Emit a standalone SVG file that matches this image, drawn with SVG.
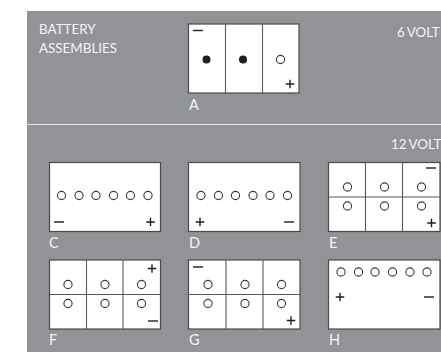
<svg xmlns="http://www.w3.org/2000/svg" width="441" height="352" viewBox="0 0 441 352">
<style>
.box{fill:#fff;stroke:#4a4a4c;stroke-width:1.2}
.div{stroke:#58585a;stroke-width:1.1;fill:none}
.o{fill:#fff;stroke:#3c3c3e;stroke-width:1.1}
.f{fill:#1f1f21}
.s{stroke:#1f1f21;stroke-width:1.4;fill:none}
.t{font-family:"Lato","Open Sans",sans-serif;font-size:13.4px;fill:#f4f4f5}
.l{font-size:14.5px}
</style>
<defs>
<circle id="c" class="o" r="4.1"/>
<path id="m" class="s" d="M-5 0H5"/>
<path id="p" class="s" d="M-4.3 0H4.3M0 -4.3V4.3"/>
</defs>
<rect x="27" y="11" width="414" height="341" fill="#929396"/>
<g id="connectors"><path d="M27 124.5H441" stroke="#e4e4e6" stroke-width="1" fill="none"/></g>
<g id="title"><text class="t" x="39" y="34">BATTERY</text><text class="t" x="39" y="53">ASSEMBLIES</text>
<text class="t" x="397" y="37" word-spacing="-1">6 VOLT</text><text class="t" x="391" y="149" word-spacing="-1">12 VOLT</text></g>
<g id="A"><rect class="box" x="188.5" y="24" width="110.5" height="69"/><path class="div" d="M225.5 24V93M262.5 24V93"/>
<circle class="f" cx="206.5" cy="59.5" r="4"/><circle class="f" cx="243" cy="59.5" r="4"/><use href="#c" x="280.5" y="59.5"/>
<use href="#m" x="198" y="30.5"/><use href="#p" x="290" y="84"/><text class="t l" x="189" y="110">A</text></g>
<g id="C"><rect class="box" x="49.5" y="162.5" width="111" height="69"/>
<use href="#c" x="61.5" y="195.5"/><use href="#c" x="79" y="195.5"/><use href="#c" x="96" y="195.5"/><use href="#c" x="113.5" y="195.5"/><use href="#c" x="130.5" y="195.5"/><use href="#c" x="148" y="195.5"/>
<use href="#m" x="59" y="222"/><use href="#p" x="150.5" y="222"/><text class="t l" x="49" y="248">C</text></g>
<g id="D"><rect class="box" x="188.5" y="162.5" width="111.5" height="69"/>
<use href="#c" x="201" y="195.5"/><use href="#c" x="218.5" y="195.5"/><use href="#c" x="235.5" y="195.5"/><use href="#c" x="253" y="195.5"/><use href="#c" x="270" y="195.5"/><use href="#c" x="287.5" y="195.5"/>
<use href="#p" x="200" y="222"/><use href="#m" x="289" y="222"/><text class="t l" x="189" y="248">D</text></g>
<g id="E"><rect class="box" x="328.5" y="162.5" width="111.5" height="69"/><path class="div" d="M365.5 162.5V231.5M402.5 162.5V231.5M328.5 197H440"/>
<use href="#c" x="347.5" y="187"/><use href="#c" x="384.5" y="187"/><use href="#c" x="421.5" y="187"/><use href="#c" x="347.5" y="206"/><use href="#c" x="384.5" y="206"/><use href="#c" x="421.5" y="206"/>
<use href="#m" x="431" y="168"/><use href="#p" x="431.5" y="223"/><text class="t l" x="329" y="248">E</text></g>
<g id="F"><rect class="box" x="49.5" y="260" width="111" height="69"/><path class="div" d="M86.5 260V329M123 260V329M49.5 294.5H160.5"/>
<use href="#c" x="68" y="284.5"/><use href="#c" x="105" y="284.5"/><use href="#c" x="141.5" y="284.5"/><use href="#c" x="68" y="303.5"/><use href="#c" x="105" y="303.5"/><use href="#c" x="141.5" y="303.5"/>
<use href="#p" x="152" y="268.5"/><use href="#m" x="153" y="321"/><text class="t l" x="49" y="345">F</text></g>
<g id="G"><rect class="box" x="188.5" y="260" width="111.5" height="69"/><path class="div" d="M226 260V329M263 260V329M188.5 294.5H300"/>
<use href="#c" x="208" y="284.5"/><use href="#c" x="245" y="284.5"/><use href="#c" x="281.5" y="284.5"/><use href="#c" x="208" y="303.5"/><use href="#c" x="245" y="303.5"/><use href="#c" x="281.5" y="303.5"/>
<use href="#m" x="198" y="267"/><use href="#p" x="291" y="320.5"/><text class="t l" x="189" y="345">G</text></g>
<g id="H"><rect class="box" x="328.5" y="260" width="111.5" height="69"/>
<use href="#c" x="341" y="272"/><use href="#c" x="358.5" y="272"/><use href="#c" x="375" y="272"/><use href="#c" x="392.5" y="272"/><use href="#c" x="410" y="272"/><use href="#c" x="427" y="272"/>
<use href="#p" x="340" y="297"/><use href="#m" x="429" y="297"/><text class="t l" x="329" y="345">H</text></g>
</svg>
